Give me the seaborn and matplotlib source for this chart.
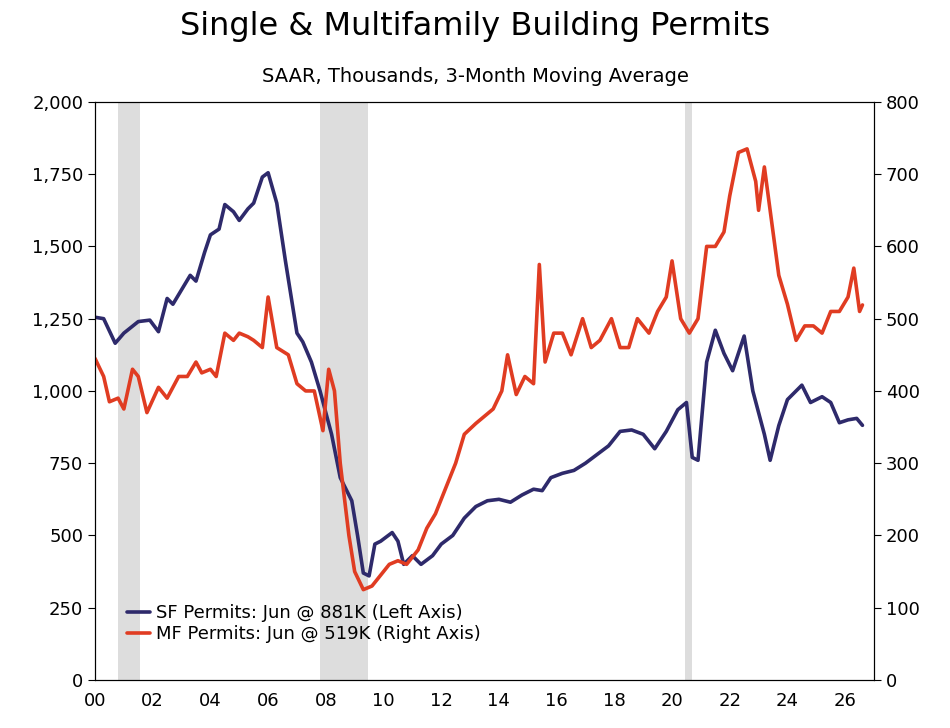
import matplotlib
matplotlib.use("Agg")
import matplotlib.pyplot as plt
import numpy as np
import pandas as pd
import seaborn as sns

sf_year = [0.0, 0.3, 0.7, 1.0, 1.5, 1.9, 2.2, 2.5, 2.7, 3.0, 3.3, 3.5, 3.8, 4.0, 4.3, 4.5, 4.8, 5.0, 5.3, 5.5,
           5.8, 6.0, 6.3, 6.6, 7.0, 7.2, 7.5, 7.8, 8.2, 8.5, 8.9, 9.1, 9.3, 9.5, 9.7, 9.9, 10.3, 10.5, 10.7, 11.0,
           11.3, 11.7, 12.0, 12.4, 12.8, 13.2, 13.6, 14.0, 14.4, 14.8, 15.2, 15.5, 15.8, 16.2, 16.6, 17.0, 17.4,
           17.8, 18.2, 18.6, 19.0, 19.4, 19.8, 20.2, 20.5, 20.7, 20.9, 21.2, 21.5, 21.8, 22.1, 22.5, 22.8, 23.2,
           23.4, 23.7, 24.0, 24.3, 24.5, 24.8, 25.2, 25.5, 25.8, 26.1, 26.4, 26.6]
sf_val = [1255, 1250, 1165, 1200, 1240, 1245, 1205, 1320, 1300, 1350, 1400, 1380, 1480, 1540, 1560, 1645, 1620,
          1590, 1630, 1650, 1740, 1755, 1650, 1450, 1200, 1170, 1100, 1000, 850, 700, 620, 500, 370, 360, 470,
          480, 510, 480, 400, 430, 400, 430, 470, 500, 560, 600, 620, 625, 615, 640, 660, 655, 700, 715, 725,
          750, 780, 810, 860, 865, 850, 800, 860, 935, 960, 770, 760, 1100, 1210, 1130, 1070, 1190, 1000, 850,
          760, 880, 970, 1000, 1020, 960, 980, 960, 890, 900, 905, 881]

mf_year = [0.0, 0.3, 0.5, 0.8, 1.0, 1.3, 1.5, 1.8, 2.2, 2.5, 2.9, 3.2, 3.5, 3.7, 4.0, 4.2, 4.5, 4.8, 5.0, 5.3,
           5.5, 5.8, 6.0, 6.3, 6.7, 7.0, 7.3, 7.6, 7.9, 8.1, 8.3, 8.5, 8.8, 9.0, 9.3, 9.6, 9.9, 10.2, 10.5, 10.8,
           11.2, 11.5, 11.8, 12.2, 12.5, 12.8, 13.2, 13.5, 13.8, 14.1, 14.3, 14.6, 14.9, 15.2, 15.4, 15.6, 15.9,
           16.2, 16.5, 16.9, 17.2, 17.5, 17.9, 18.2, 18.5, 18.8, 19.2, 19.5, 19.8, 20.0, 20.3, 20.6, 20.9, 21.2,
           21.5, 21.8, 22.0, 22.3, 22.6, 22.9, 23.0, 23.2, 23.4, 23.7, 24.0, 24.3, 24.6, 24.9, 25.2, 25.5, 25.8,
           26.1, 26.3, 26.5, 26.6]
mf_val = [445, 420, 385, 390, 375, 430, 420, 370, 405, 390, 420, 420, 440, 425, 430, 420, 480, 470, 480, 475,
          470, 460, 530, 460, 450, 410, 400, 400, 345, 430, 400, 300, 200, 150, 125, 130, 145, 160, 165, 160,
          180, 210, 230, 270, 300, 340, 355, 365, 375, 400, 450, 395, 420, 410, 575, 440, 480, 480, 450, 500,
          460, 470, 500, 460, 460, 500, 480, 510, 530, 580, 500, 480, 500, 600, 600, 620, 670, 730, 735, 690,
          650, 710, 650, 560, 520, 470, 490, 490, 480, 510, 510, 530, 570, 510, 519]

recessions = [(2000.8, 2001.55), (2007.8, 2009.45), (2020.45, 2020.7)]
x_ticks = list(range(2000, 2027, 2))
x_labels = [f"{y % 100:02d}" for y in x_ticks]

sf = pd.DataFrame({"date": 2000 + np.array(sf_year), "val": sf_val})
mf = pd.DataFrame({"date": 2000 + np.array(mf_year), "val": mf_val})

sns.set_style("white")
plt.rcParams['font.family'] = ['Verdana', 'DejaVu Sans']
plt.rcParams['text.color'] = 'black'

fig, ax = plt.subplots(figsize=(9.5, 7.28), dpi=100)
fig.subplots_adjust(left=0.1, right=0.92, top=0.86, bottom=0.066)
ax2 = ax.twinx()

for a, b in recessions:
    ax.axvspan(a, b, color='#dddddd', zorder=0, lw=0)

sns.lineplot(data=sf, x="date", y="val", ax=ax, color='#2e2a6b', lw=2.6, label='SF Permits: Jun @ 881K (Left Axis)', legend=False)
sns.lineplot(data=mf, x="date", y="val", ax=ax2, color='#e03c22', lw=2.6, label='MF Permits: Jun @ 519K (Right Axis)', legend=False)

ax.set_xlim(2000, 2027)
ax.set_ylim(0, 2000)
ax2.set_ylim(0, 800)
ax.set_yticks(range(0, 2001, 250))
ax.set_yticklabels([f"{v:,}" for v in range(0, 2001, 250)])
ax2.set_yticks(range(0, 801, 100))
ax.set_xticks(x_ticks)
ax.set_xticklabels(x_labels)
for a in (ax, ax2):
    a.set_xlabel("")
    a.set_ylabel("")
    a.tick_params(labelsize=13, length=5, direction='out', labelcolor='black', color='black')
    for s in a.spines.values():
        s.set_color('black')

h1, l1 = ax.get_legend_handles_labels()
h2, l2 = ax2.get_legend_handles_labels()
ax2.legend(h1 + h2, l1 + l2, loc='lower left', bbox_to_anchor=(0.02, 0.035), frameon=False, fontsize=13,
           handlelength=1.3, handletextpad=0.3, labelspacing=0.2)

fig.suptitle("Single & Multifamily Building Permits", fontsize=23, y=0.985, color='black')
fig.text(0.5, 0.888, "SAAR, Thousands, 3-Month Moving Average", ha='center', fontsize=14, color='black')

fig.savefig("out.png", dpi=100)
